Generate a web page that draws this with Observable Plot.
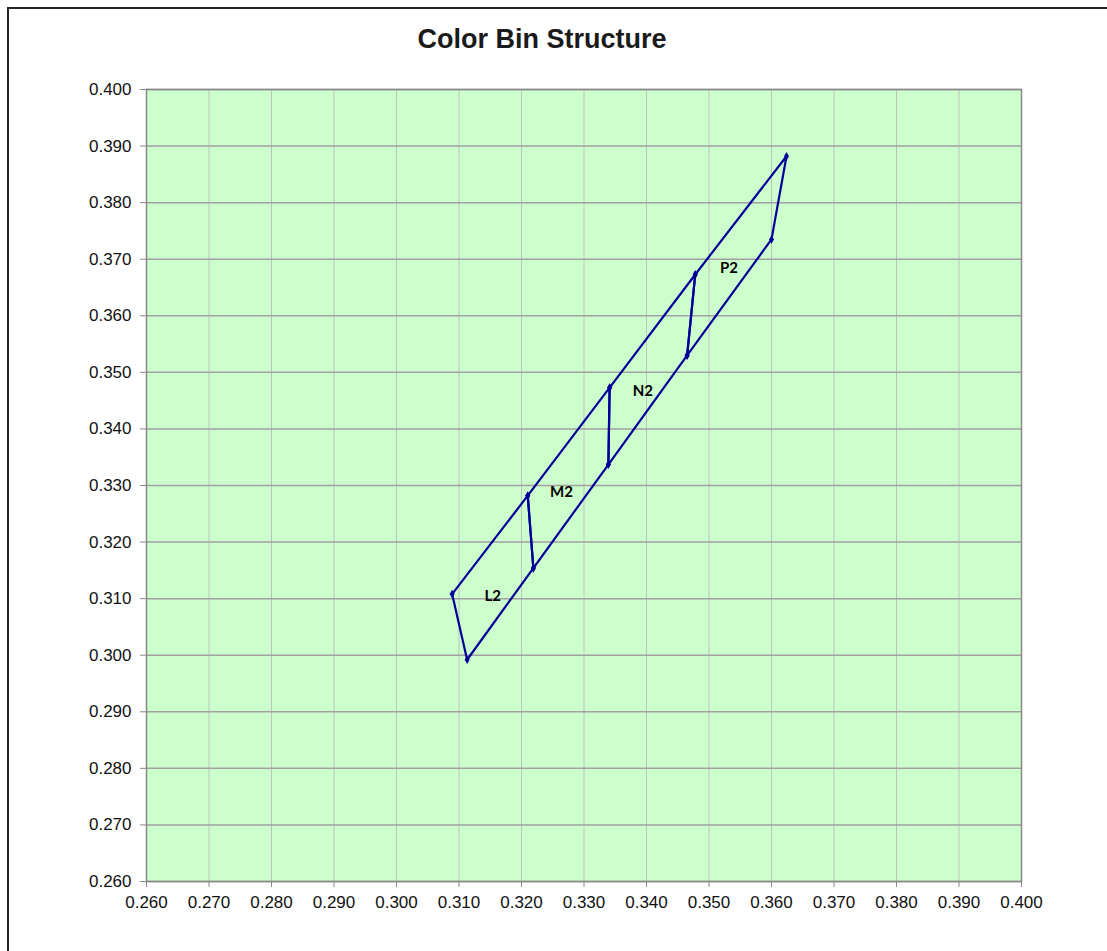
<!DOCTYPE html>
<html>
<head>
<meta charset="utf-8">
<script src="https://cdn.jsdelivr.net/npm/d3@7"></script>
<script src="https://cdn.jsdelivr.net/npm/@observablehq/plot@0.6"></script>
<style>
  html, body { margin: 0; padding: 0; background: #fff; overflow: hidden; }
  #wrap { position: relative; width: 1107px; height: 951px; }
  #border { position: absolute; left: 7px; top: 7px; width: 3000px; height: 3000px;
            border-top: 2px solid #262626; border-left: 2px solid #262626; box-sizing: border-box; }
  #title { position: absolute; left: 0; width: 1084px; top: 24px; text-align: center;
           font-family: "Liberation Sans", Arial, sans-serif; font-weight: bold; font-size: 27px;
           color: #1a1a1a; line-height: 30px; }
  #chart { position: absolute; left: 0; top: 0; }
</style>
</head>
<body>
<div id="wrap">
  <div id="border"></div>
  <div id="title">Color Bin Structure</div>
  <div id="chart"></div>
</div>
<script>
// Bin names
const bins = ["L2", "M2", "N2", "P2"];
// Upper edge vertices (x, y)
const upperX = [0.3089, 0.3210, 0.3341, 0.3478, 0.3624];
const upperY = [0.3108, 0.3282, 0.3473, 0.3673, 0.3882];
// Lower edge vertices (x, y)
const lowerX = [0.3113, 0.3219, 0.3339, 0.3465, 0.3600];
const lowerY = [0.2992, 0.3154, 0.3337, 0.3530, 0.3735];
// Label positions
const labelX = [0.3154, 0.3264, 0.3394, 0.3532];
const labelY = [0.3104, 0.3288, 0.3467, 0.3684];
// Ticks
const ticks = d3.range(26, 41).map(d => d / 100);

// Build closed quadrilateral for each bin
const poly = [];
bins.forEach((b, i) => {
  const pts = [
    [upperX[i], upperY[i]],
    [upperX[i + 1], upperY[i + 1]],
    [lowerX[i + 1], lowerY[i + 1]],
    [lowerX[i], lowerY[i]],
    [upperX[i], upperY[i]]
  ];
  pts.forEach(([x, y], k) => poly.push({bin: b, x, y, k}));
});
const verts = poly.filter(d => d.k < 4);
const labels = bins.map((b, i) => ({bin: b, x: labelX[i], y: labelY[i]}));

const navy = "#000099";

const chart = Plot.plot({
  width: 1107,
  height: 951,
  marginLeft: 146,
  marginRight: 86,
  marginTop: 89,
  marginBottom: 70,
  style: {fontFamily: "'Liberation Sans', Arial, sans-serif", fontSize: "17px", color: "#111", background: "transparent"},
  x: {domain: [0.26, 0.40], ticks: ticks, tickFormat: d3.format(".3f"), label: null},
  y: {domain: [0.26, 0.40], ticks: ticks, tickFormat: d3.format(".3f"), label: null},
  marks: [
    Plot.frame({fill: "#ccffcc", stroke: null}),
    Plot.gridX(ticks, {stroke: "#c0c0c0", strokeOpacity: 1, strokeWidth: 1}),
    Plot.gridY(ticks, {stroke: "#a0a0a0", strokeOpacity: 1, strokeWidth: 1.5}),
    Plot.frame({stroke: "#888888", strokeWidth: 1.5}),
    Plot.axisX(ticks, {tickSize: 6, tickPadding: 8, stroke: "#888888", tickFormat: d3.format(".3f"), fontSize: 17, fill: "#111", label: null}),
    Plot.axisY(ticks, {tickSize: 6, tickPadding: 9, stroke: "#888888", tickFormat: d3.format(".3f"), fontSize: 17, fill: "#111", label: null}),
    Plot.line(poly, {x: "x", y: "y", z: "bin", stroke: navy, strokeWidth: 2.2}),
    Plot.dot(verts, {x: "x", y: "y", symbol: "diamond", r: 2.6, fill: navy, stroke: null}),
    Plot.text(labels, {x: "x", y: "y", text: "bin", fontFamily: "Lato, 'Open Sans', sans-serif", fontWeight: "bold", fontSize: 15, fill: "#000"})
  ]
});
document.getElementById("chart").appendChild(chart);
</script>
</body>
</html>
